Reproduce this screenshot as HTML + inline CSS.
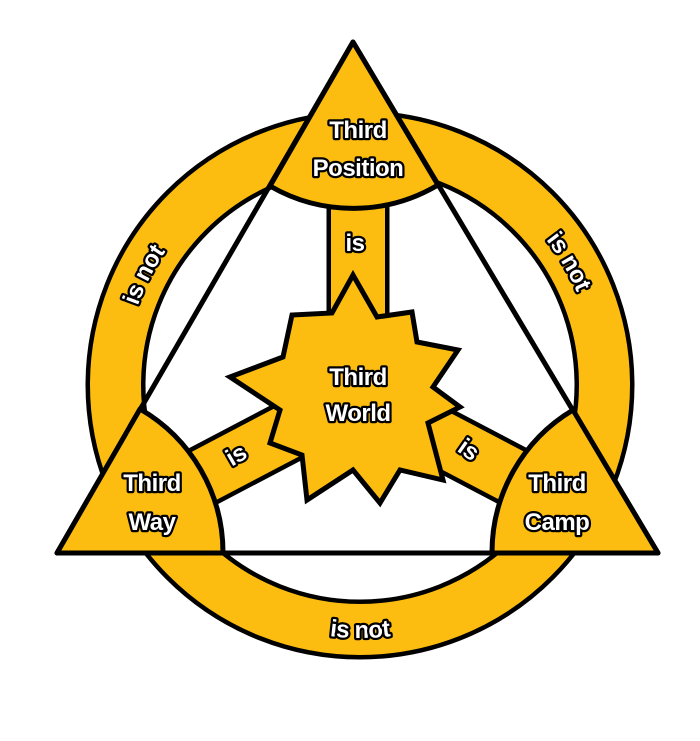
<!DOCTYPE html>
<html><head><meta charset="utf-8"><style>
html,body{margin:0;padding:0;background:#fff;}
svg{display:block;}
text{font-family:"Liberation Sans",sans-serif;font-weight:bold;font-size:24px;fill:#fff;stroke:#000;stroke-width:4.5;paint-order:stroke;stroke-linejoin:round;letter-spacing:-0.5px;}
</style></head><body>
<svg width="700" height="741" viewBox="0 0 700 741" xmlns="http://www.w3.org/2000/svg">
<defs>
<path id="top" d="M124,385 A236,236 0 0 1 596,385"/>
<path id="bot" d="M107,385 A253,253 0 0 0 613,385"/>
</defs>
<circle cx="360" cy="385" r="244.5" fill="none" stroke="#000" stroke-width="60"/>
<circle cx="360" cy="385" r="244.5" fill="none" stroke="#FDBD10" stroke-width="51"/>
<polygon points="353,42 57,553 658,553" fill="none" stroke="#000" stroke-width="5" stroke-linejoin="round"/>
<g stroke-linecap="butt">
<line x1="358" y1="200" x2="358" y2="400" stroke="#000" stroke-width="63"/>
<line x1="358" y1="200" x2="358" y2="400" stroke="#FDBD10" stroke-width="54"/>
<line x1="358" y1="395" x2="120" y2="520" stroke="#000" stroke-width="63"/>
<line x1="358" y1="395" x2="120" y2="520" stroke="#FDBD10" stroke-width="54"/>
<line x1="358" y1="395" x2="600" y2="522" stroke="#000" stroke-width="63"/>
<line x1="358" y1="395" x2="600" y2="522" stroke="#FDBD10" stroke-width="54"/>
</g>
<polygon points="353,275 377,317 412,312 417,342 458,350 433,387 460,407 428,423 443,480 400,470 380,503 353,470 307,500 302,455 270,443 280,410 230,377 283,357 292,315 332,313" fill="#FDBD10" stroke="#000" stroke-width="5" stroke-linejoin="miter"/>
<g fill="#FDBD10" stroke="#000" stroke-width="5" stroke-linejoin="round">
<path d="M353,42 L270,186 A166,166 0 0 0 438,185 Z"/>
<path d="M57,553 L140,409 A166,166 0 0 1 223,553 Z"/>
<path d="M658,553 L492,553 A166,166 0 0 1 573,410 Z"/>
</g>
<g text-anchor="middle">
<text x="358" y="138">Third</text>
<text x="358" y="176">Position</text>
<text x="358" y="385">Third</text>
<text x="358" y="421">World</text>
<text x="152" y="491">Third</text>
<text x="152" y="530">Way</text>
<text x="557" y="491">Third</text>
<text x="557" y="530">Camp</text>
<text x="355" y="251">is</text>
<text transform="translate(240,462) rotate(-30)">is</text>
<text transform="translate(464,456) rotate(35)">is</text>
<text><textPath href="#top" startOffset="15%">is not</textPath></text>
<text><textPath href="#top" startOffset="83%">is not</textPath></text>
<text><textPath href="#bot" startOffset="50%">is not</textPath></text>
</g>
</svg>
</body></html>
